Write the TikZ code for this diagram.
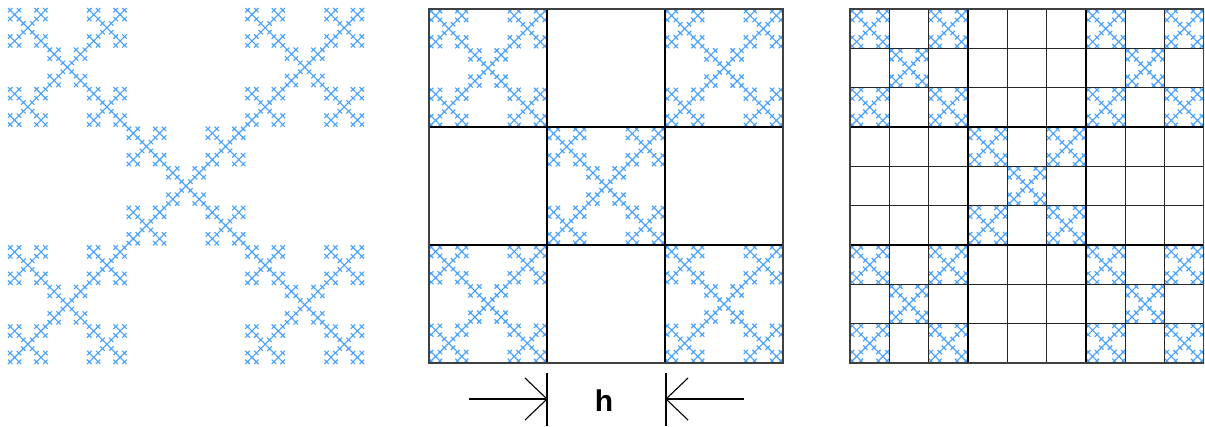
\documentclass[tikz,border=0pt]{standalone}
\usepackage{fontspec}
\setmainfont{Liberation Sans}
\definecolor{frc}{RGB}{70,160,255}
\tikzset{
  fr/.style={draw=frc,line width=1.1pt},
  outer/.style={draw=black!75,line width=1.5pt},
  thick grid/.style={draw=black,line width=2.2pt},
  thin grid/.style={draw=black!85,line width=1.2pt},
  dim/.style={draw=black,line width=1.1pt},
}
\newcommand\vfr[4]{%
  \ifnum#4=0\relax
    \draw[fr] (#1,#2) -- ++(#3,#3) (#1+#3,#2) -- ++(-#3,#3);
  \else
    \begingroup
    \pgfmathsetmacro\vs{(#3)/3}%
    \pgfmathsetmacro\vx{#1}\pgfmathsetmacro\vy{#2}%
    \pgfmathsetmacro\vxa{\vx+\vs}\pgfmathsetmacro\vxb{\vx+2*\vs}%
    \pgfmathsetmacro\vya{\vy+\vs}\pgfmathsetmacro\vyb{\vy+2*\vs}%
    \pgfmathtruncatemacro\vd{#4-1}%
    \edef\vnext{%
      \noexpand\vfr{\vx}{\vy}{\vs}{\vd}%
      \noexpand\vfr{\vxb}{\vy}{\vs}{\vd}%
      \noexpand\vfr{\vx}{\vyb}{\vs}{\vd}%
      \noexpand\vfr{\vxb}{\vyb}{\vs}{\vd}%
      \noexpand\vfr{\vxa}{\vya}{\vs}{\vd}}%
    \vnext
    \endgroup
  \fi}
\begin{document}
\begin{tikzpicture}[x=1pt,y=-1pt]
\useasboundingbox (0,0) rectangle (1205,426);
% left panel
\vfr{8}{8}{356}{4}
% middle panel
\foreach \i/\j in {0/0,2/0,0/2,2/2,1/1}{
  \pgfmathsetmacro\px{429+\i*118}\pgfmathsetmacro\py{9+\j*118}
  \vfr{\px}{\py}{118}{3}
}
% right panel
\foreach \I/\J in {0/0,2/0,0/2,2/2,1/1}{
  \foreach \i/\j in {0/0,2/0,0/2,2/2,1/1}{
    \pgfmathsetmacro\px{850+\I*118+\i*118/3}\pgfmathsetmacro\py{9+\J*118+\j*118/3}
    \vfr{\px}{\py}{39.3333}{2}
  }
}
% middle grid
\foreach \k in {1,2}{
  \draw[thick grid] (429+\k*118,9) -- (429+\k*118,363);
  \draw[thick grid] (429,9+\k*118) -- (783,9+\k*118);
}
\draw[outer] (429,9) rectangle (783,363);
% right grid
\foreach \k in {1,2,4,5,7,8}{
  \draw[thin grid] (850+\k*118/3,9) -- (850+\k*118/3,363);
  \draw[thin grid] (850,9+\k*118/3) -- (1204,9+\k*118/3);
}
\foreach \k in {1,2}{
  \draw[thick grid] (850+\k*118,9) -- (850+\k*118,363);
  \draw[thick grid] (850,9+\k*118) -- (1204,9+\k*118);
}
\draw[outer] (850,9) rectangle (1203.5,363);
% dimension h
\coordinate (la) at (547,373);
\coordinate (lb) at (547,426);
\coordinate (ra) at (666,373);
\coordinate (rb) at (666,426);
\coordinate (lt) at (547,399);
\coordinate (rt) at (666,399);
\coordinate (ls) at (469,399);
\coordinate (rs) at (744,399);
\draw[dim] (la) -- (lb) (ra) -- (rb);
\draw[dim] (ls) -- (lt);
\draw[dim] (rs) -- (rt);
\draw[dim] ([shift={(-22,-21)}]lt) -- (lt) -- ([shift={(-22,21)}]lt);
\draw[dim] ([shift={(22,-21)}]rt) -- (rt) -- ([shift={(22,21)}]rt);
\node[anchor=base,inner sep=0pt,font=\fontsize{30}{30}\selectfont\bfseries] (h) at (604,411) {h};
\end{tikzpicture}
\end{document}
